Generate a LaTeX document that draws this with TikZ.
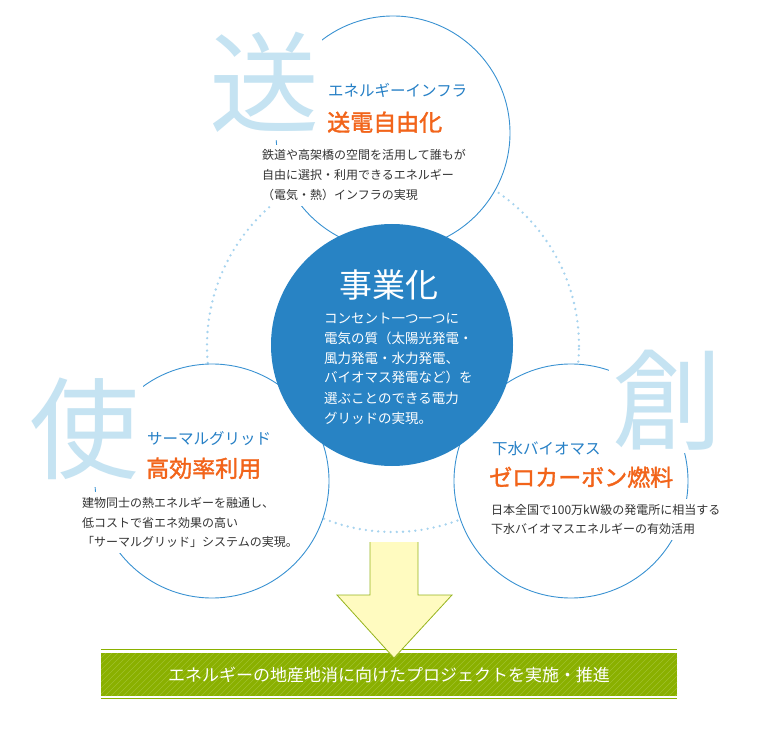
\documentclass[tikz,border=0pt]{standalone}
\usepackage{fontspec}
\setmainfont{Noto Sans CJK JP}
\newfontfamily\headfont[FakeBold=1.6]{Noto Sans CJK JP}

\definecolor{ringblue}{RGB}{58,146,210}
\definecolor{hubblue}{RGB}{40,131,196}
\definecolor{dotblue}{RGB}{166,211,238}
\definecolor{kanjiblue}{RGB}{197,227,242}
\definecolor{tagblue}{RGB}{38,128,198}
\definecolor{headorange}{RGB}{242,100,26}
\definecolor{bodygray}{RGB}{51,51,51}
\definecolor{bargreen}{RGB}{138,176,0}
\definecolor{barstripe}{RGB}{160,192,45}
\definecolor{arrowfill}{RGB}{255,251,192}
\definecolor{arrowedge}{RGB}{150,180,30}

\begin{document}
\begin{tikzpicture}[x=1pt,y=-1pt,
  ring/.style={circle,draw=ringblue,line width=0.9pt,fill=white,minimum size=234pt,inner sep=0pt},
  bigkanji/.style={text=kanjiblue,font=\fontsize{110}{110}\selectfont,fill=white,inner sep=3pt,anchor=base},
  tag/.style={text=tagblue,font=\fontsize{15.5}{18}\selectfont,inner sep=0pt,anchor=base west},
  head/.style={text=headorange,font=\headfont\fontsize{23}{26}\selectfont,inner sep=0pt,anchor=base west},
  body/.style={text=bodygray,font=\fontsize{12}{20}\selectfont,align=left,fill=white,inner sep=5pt,anchor=base west}]
  \useasboundingbox (0,0) rectangle (780,730);

  % dotted ring behind the three themes
  \draw[dotblue,line width=2.6pt,line cap=round,dash pattern=on 0pt off 6.2pt] (393,346) circle (186pt);

  \node[ring] (send) at (393,133) {};
  \node[ring] (use) at (212,481) {};
  \node[ring] (make) at (571,481) {};
  \node[circle,fill=hubblue,minimum size=242pt,inner sep=0pt] (hub) at (392,345) {};

  \node[bigkanji,inner ysep=7pt] (sendchar) at (264,125) {送};
  \node[bigkanji,inner ysep=8pt] (usechar) at (85,470) {使};
  \node[bigkanji] (makechar) at (667,441) {創};

  % top (body nodes sit on the baseline of their last line)
  \node[tag] (sendtag) at (328,97) {エネルギーインフラ};
  \node[head] (sendhead) at (327,131) {送電自由化};
  \node[body] (sendbody) at (257,200) {鉄道や高架橋の空間を活用して誰もが\\自由に選択・利用できるエネルギー\\（電気・熱）インフラの実現};

  % centre
  \node[text=white,font=\fontsize{33}{36}\selectfont,inner sep=0pt,anchor=base] (hubhead) at (389,297.5) {事業化};
  \node[text=white,font=\fontsize{13.5}{20}\selectfont,align=left,inner sep=0pt,anchor=base west] (hubbody) at (324,423) {コンセント一つ一つに\\電気の質（太陽光発電・\\風力発電・水力発電、\\バイオマス発電など）を\\選ぶことのできる電力\\グリッドの実現。};

  % left
  \node[tag] (usetag) at (147,444) {サーマルグリッド};
  \node[head] (usehead) at (146,477) {高効率利用};
  \node[body,font=\fontsize{12}{19.5}\selectfont] (usebody) at (77,546.5) {建物同士の熱エネルギーを融通し、\\低コストで省エネ効果の高い\\「サーマルグリッド」システムの実現。};

  % right
  \node[tag] (maketag) at (492,454) {下水バイオマス};
  \node[head] (makehead) at (489,486) {ゼロカーボン燃料};
  \node[body,font=\fontsize{12}{19}\selectfont] (makebody) at (486,533.5) {日本全国で100万kW級の発電所に相当する\\下水バイオマスエネルギーの有効活用};

  % goal bar
  \node[rectangle,fill=bargreen,minimum width=576pt,minimum height=43pt,inner sep=0pt,
    text=white,font=\fontsize{17}{20}\selectfont,
    path picture={\foreach \s in {-50,-44,...,590}
      \draw[barstripe,line width=0.6pt] ([xshift=\s pt]path picture bounding box.south west) -- ++(45,-45);}]
    (goal) at (389,674.5) {エネルギーの地産地消に向けたプロジェクトを実施・推進};
  \draw[bargreen,line width=1pt] ([yshift=3pt]goal.north west) -- ([yshift=3pt]goal.north east);
  \draw[bargreen,line width=1pt] ([yshift=-2pt]goal.south west) -- ([yshift=-2pt]goal.south east);

  \fill[arrowfill] (370,542) -- (418,542) -- (418,595) -- (452,595) -- (394,658) -- (337,595) -- (370,595) -- cycle;
  \draw[arrowedge,line width=0.8pt] (418,542) -- (418,595) -- (452,595) -- (394,658) -- (337,595) -- (370,595) -- (370,542);
\end{tikzpicture}
\end{document}
